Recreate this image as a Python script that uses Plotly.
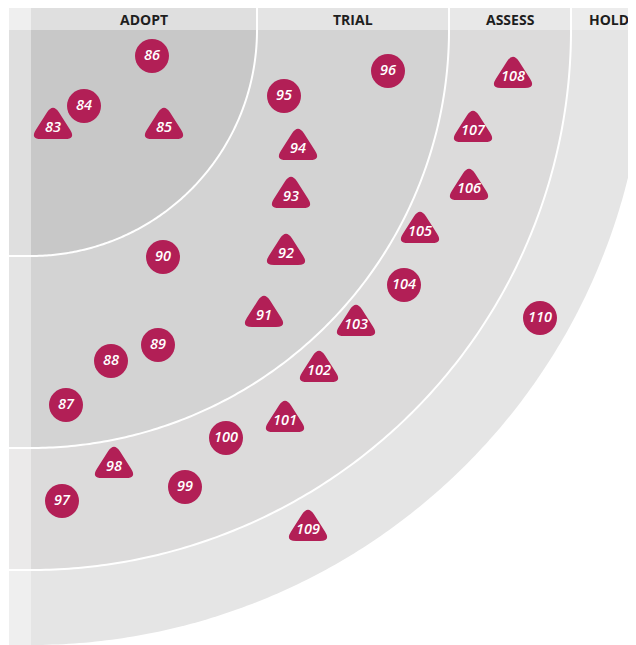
import numpy as np
import plotly.graph_objects as go

# ---- data ----
ring_names = ["ADOPT", "TRIAL", "ASSESS", "HOLD"]
ring_radii = [226, 418, 540, 615]
ring_colors = ["#c8c8c8", "#d3d3d3", "#dcdbdb", "#e5e5e5"]
header_colors = ["#dfdfdf", "#e4e4e4", "#e8e8e8", "#ececec"]
strip_colors = ["#dfdfdf", "#e4e4e4", "#ebeaea", "#efefef"]

circle_ids = ["86", "84", "95", "96", "90", "89", "88", "87", "100", "99", "97", "104", "110"]
circle_x = [152, 84, 284, 388, 163, 158, 111, 66, 226, 185, 62, 404, 540]
circle_y = [56, 106, 96, 71, 257, 345, 361, 405, 438, 487, 501, 285, 318]

tri_ids = ["83", "85", "94", "93", "92", "91", "103", "102", "101", "98", "109", "105", "106", "107", "108"]
tri_x = [53, 164, 298, 291, 286, 264, 356, 319, 285, 114, 308, 420, 469, 473, 513]
tri_y = [128, 128, 149, 197, 254, 316, 325, 371, 421, 467, 530, 232, 189, 131, 77]

# ---- geometry (page pixel coordinates; the plot sits 8px in from the page corner) ----
W, H = 636, 645
PAGE_OFF = 8
OX, OY = 31, 30          # radar origin (top-left corner of quadrant)
STRIP_X0 = 9
HEAD_Y0 = 8
BLIP = "#b21f56"

def arc_pts(r, n=180):
    t = np.linspace(0, np.pi / 2, n)
    return OX + r * np.cos(t), OY + r * np.sin(t)

shapes = []
for r, col in reversed(list(zip(ring_radii, ring_colors))):
    xs, ys = arc_pts(r)
    p = f"M {OX},{OY} " + " ".join(f"L {x:.2f},{y:.2f}" for x, y in zip(xs, ys)) + " Z"
    shapes.append(dict(type="path", path=p, xref="x", yref="y",
                       fillcolor=col, line=dict(width=0), layer="below"))

prev = 0
for i, r in enumerate(ring_radii):
    shapes.append(dict(type="rect", xref="x", yref="y", x0=OX + prev, x1=OX + r,
                       y0=HEAD_Y0, y1=OY, fillcolor=header_colors[i], line=dict(width=0), layer="below"))
    shapes.append(dict(type="rect", xref="x", yref="y", x0=STRIP_X0, x1=OX,
                       y0=OY + prev, y1=OY + r, fillcolor=strip_colors[i], line=dict(width=0), layer="below"))
    prev = r
shapes.append(dict(type="rect", xref="x", yref="y", x0=STRIP_X0, x1=OX, y0=HEAD_Y0, y1=OY,
                   fillcolor="#efefef", line=dict(width=0), layer="below"))

for r in ring_radii[:-1]:
    xs, ys = arc_pts(r)
    p = f"M {xs[0]:.2f},{ys[0]:.2f} " + " ".join(f"L {x:.2f},{y:.2f}" for x, y in zip(xs[1:], ys[1:]))
    shapes.append(dict(type="path", path=p, xref="x", yref="y",
                       line=dict(color="white", width=2), layer="below"))
    shapes.append(dict(type="line", xref="x", yref="y", x0=OX + r, x1=OX + r, y0=HEAD_Y0, y1=OY,
                       line=dict(color="white", width=2), layer="below"))
    shapes.append(dict(type="line", xref="x", yref="y", x0=STRIP_X0, x1=OX, y0=OY + r, y1=OY + r,
                       line=dict(color="white", width=2), layer="below"))

def rounded_tri(cx, ty, hw=23, top=25, bot=11, d=11):
    A = np.array([cx, ty - top]); B = np.array([cx + hw, ty + bot]); C = np.array([cx - hw, ty + bot])
    verts = [A, B, C]
    def towards(p, q, dist):
        v = q - p
        return p + v / np.linalg.norm(v) * dist
    path = ""
    for i in range(3):
        V = verts[i]; P = verts[i - 1]; N = verts[(i + 1) % 3]
        a = towards(V, P, d); b = towards(V, N, d)
        path += ("M" if i == 0 else "L") + f" {a[0]:.2f},{a[1]:.2f} Q {V[0]:.2f},{V[1]:.2f} {b[0]:.2f},{b[1]:.2f} "
    return path + "Z"

for x, y in zip(tri_x, tri_y):
    shapes.append(dict(type="path", path=rounded_tri(x, y), xref="x", yref="y",
                       fillcolor=BLIP, line=dict(width=0), layer="below"))

fig = go.Figure()
fig.add_trace(go.Scatter(x=circle_x, y=circle_y, mode="markers",
                         marker=dict(size=34, color=BLIP, line=dict(width=0)),
                         hoverinfo="skip", showlegend=False))
fig.add_trace(go.Scatter(x=circle_x + tri_x, y=circle_y + tri_y, mode="text",
                         text=circle_ids + tri_ids,
                         textfont=dict(family="Open Sans", size=14.5, color="white",
                                       style="italic", weight=600),
                         hoverinfo="skip", showlegend=False))

annotations = []
prev = 0
for name, r in zip(ring_names, ring_radii):
    annotations.append(dict(x=OX + (prev + r) / 2, y=(HEAD_Y0 + OY) / 2 + 0.5, xref="x", yref="y",
                            text=name, showarrow=False,
                            font=dict(family="Open Sans", size=14, color="#1e1e1e", weight=700)))
    prev = r

fig.update_layout(width=W, height=H, margin=dict(l=0, r=0, t=0, b=0),
                  paper_bgcolor="white", plot_bgcolor="white",
                  xaxis=dict(range=[PAGE_OFF, W + PAGE_OFF], visible=False, fixedrange=True),
                  yaxis=dict(range=[H + PAGE_OFF, PAGE_OFF], visible=False, fixedrange=True),
                  shapes=shapes, annotations=annotations)
fig.write_html("out.html")
